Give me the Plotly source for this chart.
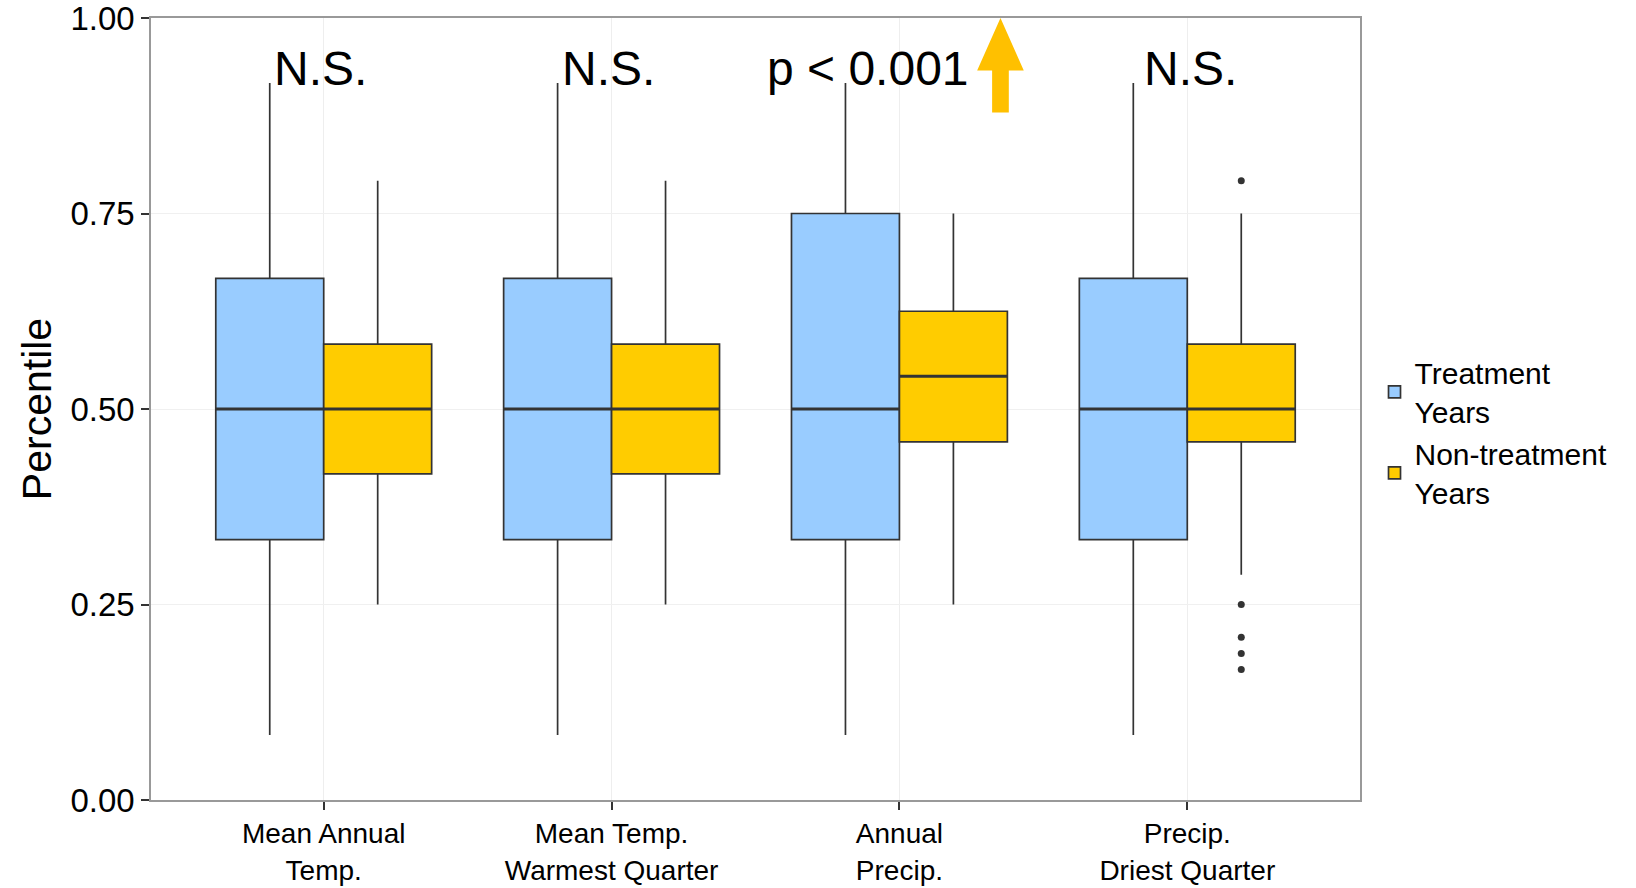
import plotly.graph_objects as go

categories = ["Mean Annual<br>Temp.", "Mean Temp.<br>Warmest Quarter", "Annual<br>Precip.", "Precip.<br>Driest Quarter"]
cat_pos = [1, 2, 3, 4]

# Treatment years (blue)
trt_low = [0.083, 0.083, 0.083, 0.083]
trt_q1 = [0.333, 0.333, 0.333, 0.333]
trt_med = [0.5, 0.5, 0.5, 0.5]
trt_q3 = [0.667, 0.667, 0.75, 0.667]
trt_high = [0.917, 0.917, 0.917, 0.917]

# Non-treatment years (yellow)
non_low = [0.25, 0.25, 0.25, 0.288]
non_q1 = [0.417, 0.417, 0.458, 0.458]
non_med = [0.5, 0.5, 0.542, 0.5]
non_q3 = [0.583, 0.583, 0.625, 0.583]
non_high = [0.792, 0.792, 0.75, 0.75]

# Outliers (non-treatment, Precip. Driest Quarter)
out_cat = [4, 4, 4, 4, 4]
out_vals = [0.792, 0.25, 0.208, 0.1875, 0.167]

labels_text = ["N.S.", "N.S.", "p < 0.001", "N.S."]

BLUE = "#99CCFF"
YELLOW = "#FFCC00"
EDGE = "#333333"
dodge = 0.1875
bw = 0.375

fig = go.Figure()

for i, c in enumerate(cat_pos):
    fig.add_trace(go.Box(
        x=[c - dodge], q1=[trt_q1[i]], median=[trt_med[i]], q3=[trt_q3[i]],
        lowerfence=[trt_low[i]], upperfence=[trt_high[i]],
        width=bw, fillcolor=BLUE, line=dict(color=EDGE, width=1.7),
        whiskerwidth=0, name="Treatment<br>Years", legendgroup="t",
        showlegend=(i == 0), hoverinfo="skip", boxpoints=False,
    ))
for i, c in enumerate(cat_pos):
    fig.add_trace(go.Box(
        x=[c + dodge], q1=[non_q1[i]], median=[non_med[i]], q3=[non_q3[i]],
        lowerfence=[non_low[i]], upperfence=[non_high[i]],
        width=bw, fillcolor=YELLOW, line=dict(color=EDGE, width=1.7),
        whiskerwidth=0, name="Non-treatment<br>Years", legendgroup="n",
        showlegend=(i == 0), hoverinfo="skip", boxpoints=False,
    ))

# thicker median lines (ggplot style)
mx, my = [], []
for i, c in enumerate(cat_pos):
    for pos, med in ((c - dodge, trt_med[i]), (c + dodge, non_med[i])):
        mx += [pos - bw / 2, pos + bw / 2, None]
        my += [med, med, None]
fig.add_trace(go.Scatter(x=mx, y=my, mode="lines", line=dict(color=EDGE, width=3),
                         showlegend=False, hoverinfo="skip"))

fig.add_trace(go.Scatter(
    x=[c + dodge for c in out_cat], y=out_vals, mode="markers",
    marker=dict(color=EDGE, size=7), showlegend=False, hoverinfo="skip",
))

# significance labels
offsets = [-0.012, -0.01, -0.11, 0.01]
for i, c in enumerate(cat_pos):
    fig.add_annotation(x=c + offsets[i], y=0.935, text=labels_text[i],
                       showarrow=False, font=dict(size=48, color="black"),
                       xanchor="center", yanchor="middle")

# yellow arrow next to p-value
ax = 3.351
fig.add_shape(type="path",
              path=(f"M {ax-0.029},0.879 L {ax-0.029},0.933 L {ax-0.081},0.933 "
                    f"L {ax},1.0 L {ax+0.081},0.933 L {ax+0.029},0.933 L {ax+0.029},0.879 Z"),
              fillcolor="#FFC000", line=dict(width=0), layer="above")

fig.update_layout(
    width=1636, height=888,
    margin=dict(l=151, r=276, t=18, b=88, autoexpand=False),
    plot_bgcolor="white", paper_bgcolor="white",
    font=dict(family="Liberation Sans, Arial, sans-serif", color="black"),
    legend=dict(x=1.012, xanchor="left", y=0.47, yanchor="middle",
                font=dict(size=30), tracegroupgap=0, bgcolor="rgba(0,0,0,0)"),
    showlegend=True,
)
fig.update_xaxes(
    range=[0.4, 4.6], tickvals=cat_pos, ticktext=categories,
    tickfont=dict(size=28, color="black"), automargin=False,
    ticklabeloverflow="allow",
    showgrid=True, gridcolor="#EEEEEE", gridwidth=1,
    showline=True, linecolor="#999999", linewidth=1.5, mirror=True,
    ticks="outside", ticklen=8, tickcolor="#333333", tickwidth=1.5,
    zeroline=False,
)
fig.update_yaxes(
    range=[0, 1], tickvals=[0, 0.25, 0.5, 0.75, 1.0],
    ticktext=["0.00", "0.25", "0.50", "0.75", "1.00"],
    tickfont=dict(size=33, color="black"), automargin=False,
    ticklabeloverflow="allow",
    title=dict(text="Percentile", font=dict(size=41, color="black"), standoff=6),
    showgrid=True, gridcolor="#F0F0F0", gridwidth=1,
    showline=True, linecolor="#999999", linewidth=1.5, mirror=True,
    ticks="outside", ticklen=8, tickcolor="#333333", tickwidth=1.5,
    zeroline=False,
)

fig.write_html("out.html", config={"displayModeBar": False},
               post_script="document.body.style.margin='0';")
